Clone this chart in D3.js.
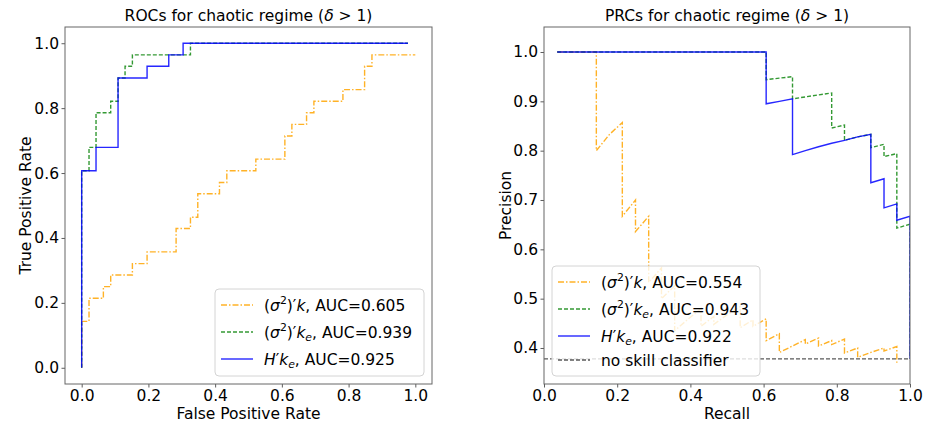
<!DOCTYPE html>
<html>
<head>
<meta charset="utf-8">
<script src="https://cdn.jsdelivr.net/npm/d3@7"></script>
<style>
  body { margin: 0; background: #fff; }
  text { font-family: "DejaVu Sans", sans-serif; }
</style>
</head>
<body>
<div id="chart"></div>
<script>
// ROC corner points (step-after): (sigma^2)'k, (sigma^2)'k_e, H'k_e
var rocFprA = [0, 0, 0.022, 0.065, 0.087, 0.152, 0.196, 0.283, 0.326, 0.348, 0.413, 0.435, 0.522, 0.609, 0.630, 0.674, 0.696, 0.783, 0.848, 0.870, 1.0];
var rocTprA = [0, 0.143, 0.214, 0.25, 0.286, 0.321, 0.357, 0.429, 0.464, 0.536, 0.571, 0.607, 0.643, 0.714, 0.75, 0.786, 0.821, 0.857, 0.929, 0.964, 0.964];
var rocFprB = [0, 0, 0.022, 0.043, 0.087, 0.109, 0.130, 0.152, 0.326, 0.978];
var rocTprB = [0, 0.607, 0.679, 0.786, 0.821, 0.893, 0.929, 0.964, 1.0, 1.0];
var rocFprC = [0, 0, 0.043, 0.109, 0.196, 0.261, 0.304, 0.978];
var rocTprC = [0, 0.607, 0.679, 0.893, 0.929, 0.964, 1.0, 1.0];

// PR curve points (straight lines between them)
var prRecA = [0.036, 0.143, 0.143, 0.179, 0.214, 0.214, 0.25, 0.25, 0.286, 0.286, 0.321, 0.321, 0.357, 0.357, 0.393, 0.429, 0.429, 0.464, 0.464, 0.5, 0.536, 0.536, 0.571, 0.571, 0.607, 0.607, 0.643, 0.643, 0.679, 0.714, 0.714, 0.75, 0.75, 0.786, 0.786, 0.821, 0.821, 0.857, 0.857, 0.893, 0.929, 0.929, 0.964, 0.964];
var prPreA = [1.0, 1.0, 0.800, 0.833, 0.857, 0.667, 0.700, 0.636, 0.667, 0.533, 0.5625, 0.500, 0.526, 0.435, 0.458, 0.480, 0.444, 0.464, 0.448, 0.467, 0.484, 0.441, 0.457, 0.444, 0.459, 0.415, 0.429, 0.391, 0.404, 0.417, 0.408, 0.420, 0.404, 0.415, 0.407, 0.418, 0.390, 0.400, 0.381, 0.391, 0.400, 0.394, 0.403, 0.370];
var prRecB = [0.036, 0.607, 0.607, 0.643, 0.679, 0.679, 0.714, 0.75, 0.786, 0.786, 0.821, 0.821, 0.857, 0.893, 0.893, 0.929, 0.929, 0.964, 0.964, 1.0, 1.0];
var prPreB = [1.0, 1.0, 0.944, 0.947, 0.950, 0.905, 0.909, 0.913, 0.917, 0.846, 0.852, 0.821, 0.828, 0.833, 0.806, 0.813, 0.788, 0.794, 0.643, 0.651, 0.378];
var prRecC = [0.036, 0.607, 0.607, 0.643, 0.679, 0.679, 0.714, 0.75, 0.786, 0.821, 0.857, 0.893, 0.893, 0.929, 0.929, 0.964, 0.964, 1.0, 1.0];
var prPreC = [1.0, 1.0, 0.895, 0.900, 0.905, 0.792, 0.800, 0.808, 0.815, 0.821, 0.828, 0.833, 0.735, 0.743, 0.684, 0.692, 0.659, 0.667, 0.378];

var rocAuc = [0.605, 0.939, 0.925];
var prcAuc = [0.554, 0.943, 0.922];
var noSkill = 0.378;

var rocTicks = [0, 0.2, 0.4, 0.6, 0.8, 1.0];
var precTicks = [0.4, 0.5, 0.6, 0.7, 0.8, 0.9, 1.0];

var styles = [
  { color: "orange", dash: "6,2,1.5,2", opacity: 0.85 },
  { color: "green", dash: "4,2", opacity: 0.8 },
  { color: "blue", dash: null, opacity: 0.85 }
];
var noSkillStyle = { color: "#000", dash: "4,2", opacity: 0.65 };

var FS = 15.5;

var svg = d3.select("#chart").append("svg").attr("width", 927).attr("height", 423);

function zip(xs, ys) {
  return xs.map(function (d, i) { return [d, ys[i]]; });
}

// text with mathtext-like italic / sub / sup pieces
function richText(sel, parts) {
  var shift = 0;
  parts.forEach(function (p) {
    var target = p.sup ? -6.5 : p.sub ? 3.5 : 0;
    var ts = sel.append("tspan").text(p.t).attr("dy", target - shift);
    shift = target;
    if (p.sup || p.sub) ts.attr("font-size", (FS * 0.7) + "px");
    if (p.i) ts.attr("font-style", "italic");
  });
}

function labelParts(kind, auc) {
  var tail = { t: ", AUC=" + auc.toFixed(3) };
  if (kind == 0) return [{ t: "(" }, { t: "σ", i: true }, { t: "2", sup: true }, { t: ")′" }, { t: "k", i: true }, tail];
  if (kind == 1) return [{ t: "(" }, { t: "σ", i: true }, { t: "2", sup: true }, { t: ")′" }, { t: "k", i: true }, { t: "e", i: true, sub: true }, tail];
  return [{ t: "H", i: true }, { t: "′" }, { t: "k", i: true }, { t: "e", i: true, sub: true }, tail];
}

function styleLine(path, s) {
  path.attr("fill", "none")
    .attr("stroke", s.color)
    .attr("stroke-width", 1.4)
    .attr("stroke-opacity", s.opacity);
  if (s.dash) path.attr("stroke-dasharray", s.dash);
}

function drawPanel(p) {
  var x = d3.scaleLinear().domain(p.xDomain).range([p.left, p.right]);
  var y = d3.scaleLinear().domain(p.yDomain).range([p.bottom, p.top]);
  var g = svg.append("g");

  g.append("clipPath").attr("id", p.id + "-clip")
    .append("rect")
    .attr("x", p.left).attr("y", p.top)
    .attr("width", p.right - p.left).attr("height", p.bottom - p.top);

  var xAxis = g.append("g")
    .attr("transform", "translate(0," + p.bottom + ")")
    .call(d3.axisBottom(x).tickValues(p.xTicks).tickFormat(d3.format(".1f")).tickSize(3.5).tickPadding(2));
  var yAxis = g.append("g")
    .attr("transform", "translate(" + p.left + ",0)")
    .call(d3.axisLeft(y).tickValues(p.yTicks).tickFormat(d3.format(".1f")).tickSize(3.5).tickPadding(2.5));
  [xAxis, yAxis].forEach(function (a) {
    a.select(".domain").remove();
    a.attr("font-family", null).attr("font-size", FS + "px");
    a.selectAll("line").attr("stroke", "#333").attr("stroke-width", 0.8);
    a.selectAll("text").attr("fill", "#000");
  });

  var lines = g.append("g").attr("clip-path", "url(#" + p.id + "-clip)");
  p.series.forEach(function (s, i) {
    var line = d3.line()
      .x(function (d) { return x(d[0]); })
      .y(function (d) { return y(d[1]); })
      .curve(p.step ? d3.curveStepAfter : d3.curveLinear);
    styleLine(lines.append("path").attr("d", line(s)), styles[i]);
  });
  if (p.baseline !== undefined) {
    styleLine(lines.append("path")
      .attr("d", d3.line()([[x(p.xDomain[0]), y(p.baseline)], [x(p.xDomain[1]), y(p.baseline)]])), noSkillStyle);
  }

  g.append("rect")
    .attr("x", p.left).attr("y", p.top)
    .attr("width", p.right - p.left).attr("height", p.bottom - p.top)
    .attr("fill", "none").attr("stroke", "#666").attr("stroke-width", 1);

  // title
  var t = g.append("text")
    .attr("x", (p.left + p.right) / 2).attr("y", 21)
    .attr("text-anchor", "middle").attr("font-size", FS + "px");
  richText(t, [{ t: p.title + " (" }, { t: "δ", i: true }, { t: " > 1)" }]);

  g.append("text")
    .attr("x", (p.left + p.right) / 2).attr("y", 419)
    .attr("text-anchor", "middle").attr("font-size", FS + "px")
    .text(p.xLabel);
  g.append("text")
    .attr("transform", "translate(" + p.yLabelX + "," + (p.top + p.bottom) / 2 + ") rotate(-90)")
    .attr("text-anchor", "middle").attr("font-size", FS + "px")
    .text(p.yLabel);

  // legend
  var lg = p.legend;
  g.append("rect")
    .attr("x", lg.x).attr("y", lg.y).attr("width", lg.w).attr("height", lg.h)
    .attr("rx", 4).attr("fill", "#fff").attr("fill-opacity", 0.8)
    .attr("stroke", "#d4d4d4").attr("stroke-width", 1);
  lg.rows.forEach(function (r) {
    styleLine(g.append("path").attr("d", d3.line()([[lg.x + 6, r.y], [lg.x + 38, r.y]])), r.style);
    var txt = g.append("text")
      .attr("x", lg.x + 49).attr("y", r.y + 5.5)
      .attr("font-size", FS + "px");
    richText(txt, r.parts);
  });
}

drawPanel({
  id: "roc",
  left: 65, right: 432, top: 27, bottom: 384,
  xDomain: [-0.05, 1.05], yDomain: [-0.05, 1.05],
  xTicks: rocTicks, yTicks: rocTicks,
  step: true,
  series: [zip(rocFprA, rocTprA), zip(rocFprB, rocTprB), zip(rocFprC, rocTprC)],
  title: "ROCs for chaotic regime",
  xLabel: "False Positive Rate",
  yLabel: "True Positive Rate",
  yLabelX: 30.5,
  legend: {
    x: 215, y: 289, w: 209, h: 87,
    rows: [0, 1, 2].map(function (k) {
      return { y: 305 + 27 * k, style: styles[k], parts: labelParts(k, rocAuc[k]) };
    })
  }
});

drawPanel({
  id: "prc",
  left: 544, right: 910, top: 27, bottom: 384,
  xDomain: [0, 1], yDomain: [0.327, 1.0507],
  xTicks: rocTicks, yTicks: precTicks,
  step: false,
  series: [zip(prRecA, prPreA), zip(prRecB, prPreB), zip(prRecC, prPreC)],
  baseline: noSkill,
  title: "PRCs for chaotic regime",
  xLabel: "Recall",
  yLabel: "Precision",
  yLabelX: 511,
  legend: {
    x: 552, y: 266, w: 208, h: 110,
    rows: [0, 1, 2].map(function (k) {
      return { y: 282 + 27 * k, style: styles[k], parts: labelParts(k, prcAuc[k]) };
    }).concat([{ y: 360, style: noSkillStyle, parts: [{ t: "no skill classifier" }] }])
  }
});
</script>
</body>
</html>
